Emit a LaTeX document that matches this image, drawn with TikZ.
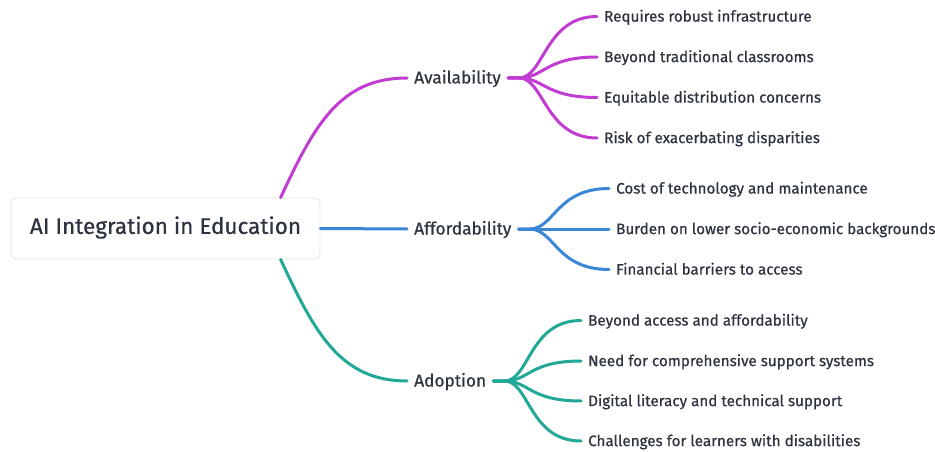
\documentclass[tikz,border=0pt]{standalone}
\usepackage{fontspec}
\setmainfont{Fira Sans}[FakeBold=0.6]
\definecolor{txt}{HTML}{2D3440}
\definecolor{cpur}{HTML}{C03CD2}
\definecolor{cblu}{HTML}{3A87D8}
\definecolor{ctea}{HTML}{22A896}
\definecolor{bord}{HTML}{E2E4E8}
\begin{document}
\begin{tikzpicture}[x=1pt,y=-1pt,
  rootbox/.style={draw=bord,line width=0.8pt,fill=white,rounded corners=5pt,minimum width=309pt,minimum height=61pt,text height=1.08em,text depth=0em,font=\fontsize{22.5}{26}\selectfont,text=txt},
  branch/.style={anchor=west,inner sep=0pt,text height=1.1em,text depth=0em,font=\fontsize{17.3}{20}\selectfont,text=txt},
  leaf/.style={anchor=west,inner sep=0pt,text height=1.02em,text depth=0em,font=\fontsize{15.2}{18}\selectfont,text=txt},
  conn/.style={line width=3pt,line cap=round}]
\useasboundingbox (0,0) rectangle (935,452);
% root
\node[rootbox] (root) at (165.5,228.5) {AI Integration in Education};
% branches
\node[branch] (av) at (414,78) {Availability};
\node[branch] (af) at (414,229) {Affordability};
\node[branch] (ad) at (414,381) {Adoption};
% leaves
\node[leaf] (av1) at (604,16.5) {Requires robust infrastructure};
\node[leaf] (av2) at (604,57) {Beyond traditional classrooms};
\node[leaf] (av3) at (604,97.5) {Equitable distribution concerns};
\node[leaf] (av4) at (604,138) {Risk of exacerbating disparities};
\node[leaf] (af1) at (616,188.5) {Cost of technology and maintenance};
\node[leaf] (af2) at (616,229) {Burden on lower socio-economic backgrounds};
\node[leaf] (af3) at (616,269.5) {Financial barriers to access};
\node[leaf] (ad1) at (588,320.5) {Beyond access and affordability};
\node[leaf] (ad2) at (588,361) {Need for comprehensive support systems};
\node[leaf] (ad3) at (588,401) {Digital literacy and technical support};
\node[leaf] (ad4) at (588,441) {Challenges for learners with disabilities};
% main connectors
\draw[conn,cpur] ([xshift=270pt]root.north west) .. controls +(34,-73) and +(-67,0) .. ([xshift=-7pt]av.west);
\draw[conn,cblu] (root.east) -- ([xshift=-7pt]af.west);
\draw[conn,ctea] ([xshift=270pt]root.south west) .. controls +(34,73) and +(-67,0) .. ([xshift=-7pt]ad.west);
% leaf connectors
\foreach \l in {av1,av2,av3,av4}{
  \draw[conn,cpur] ([xshift=7pt]av.east) -- ++(11,0) .. controls +(25,0) and +(-52,0) .. ([xshift=-7pt]\l.west);
}
\foreach \l in {af1,af2,af3}{
  \draw[conn,cblu] ([xshift=7pt]af.east) -- ++(11,0) .. controls +(25,0) and +(-53,0) .. ([xshift=-7pt]\l.west);
}
\foreach \l in {ad1,ad2,ad3,ad4}{
  \draw[conn,ctea] ([xshift=7pt]ad.east) -- ++(11,0) .. controls +(25,0) and +(-52,0) .. ([xshift=-7pt]\l.west);
}
\end{tikzpicture}
\end{document}
